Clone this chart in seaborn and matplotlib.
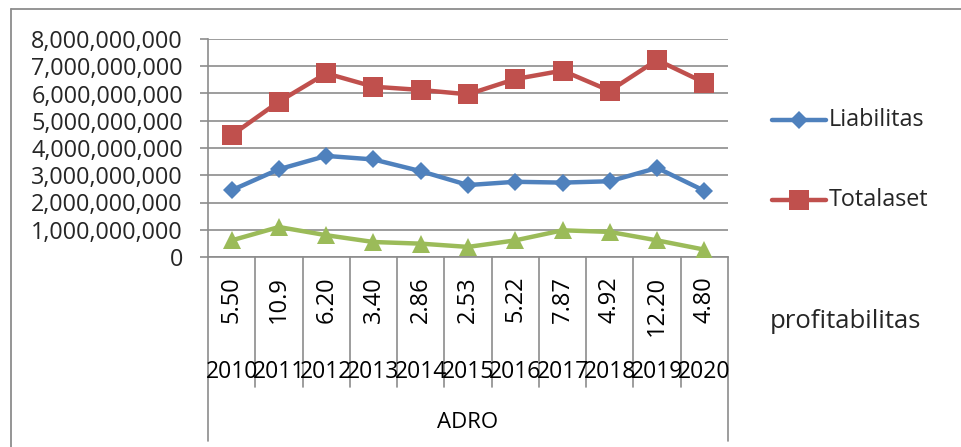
import matplotlib
matplotlib.use("Agg")
import matplotlib.pyplot as plt
import matplotlib.transforms as mtransforms
from matplotlib.lines import Line2D
import numpy as np
import pandas as pd
import seaborn as sns

# ---- data -------------------------------------------------------------
years = ["2010", "2011", "2012", "2013", "2014", "2015",
         "2016", "2017", "2018", "2019", "2020"]
profit_labels = ["5.50", "10.9", "6.20", "3.40", "2.86", "2.53",
                 "5.22", "7.87", "4.92", "12.20", "4.80"]
company = "ADRO"

liabilitas = [2.45e9, 3.22e9, 3.71e9, 3.58e9, 3.15e9, 2.64e9,
              2.76e9, 2.73e9, 2.78e9, 3.27e9, 2.43e9]
totalaset = [4.47e9, 5.70e9, 6.74e9, 6.25e9, 6.13e9, 5.97e9,
             6.53e9, 6.84e9, 6.10e9, 7.23e9, 6.40e9]
profitabilitas = [0.61e9, 1.10e9, 0.80e9, 0.55e9, 0.49e9, 0.37e9,
                  0.61e9, 0.98e9, 0.92e9, 0.61e9, 0.27e9]

series_names = ["Liabilitas", "Totalaset", "profitabilitas"]
series_values = [liabilitas, totalaset, profitabilitas]
yticks = [0, 1e9, 2e9, 3e9, 4e9, 5e9, 6e9, 7e9, 8e9]

# ---- styling ----------------------------------------------------------
colors = {"Liabilitas": "#4F81BD", "Totalaset": "#C0504D", "profitabilitas": "#9BBB59"}
markers = {"Liabilitas": "D", "Totalaset": "s", "profitabilitas": "^"}
msizes = {"Liabilitas": 9.2, "Totalaset": 14, "profitabilitas": 12.5}
grid_c = "#8C8C8C"

sns.set_style("white")
plt.rcParams["font.family"] = ["Open Sans", "DejaVu Sans"]

W, H = 961, 447
fig = plt.figure(figsize=(W / 100, H / 100), dpi=100)

x0, x1, ytop, ybot = 208, 728, 39, 257
ax = fig.add_axes([x0 / W, 1 - ybot / H, (x1 - x0) / W, (ybot - ytop) / H])

df = pd.DataFrame({
    "pos": np.tile(np.arange(len(years)), len(series_names)),
    "value": np.concatenate(series_values),
    "series": np.repeat(series_names, len(years)),
})

for name in series_names:
    sub = df[df["series"] == name]
    sns.lineplot(data=sub, x="pos", y="value", ax=ax, color=colors[name],
                 marker=markers[name], markersize=msizes[name],
                 markeredgewidth=0, linewidth=3.2, legend=False, zorder=3)

ax.set_xlim(-0.5, len(years) - 0.5)
ax.set_ylim(0, 8e9)
ax.set_yticks(yticks)
ax.set_yticklabels([f"{int(v):,}" for v in yticks], fontsize=16.8)
ax.set_xticks([])
ax.set_xlabel("")
ax.set_ylabel("")
ax.yaxis.grid(True, color=grid_c, linewidth=1.2)
ax.tick_params(axis="y", direction="out", length=6, width=1.2, color=grid_c, pad=12, left=True)
for side in ["top", "right"]:
    ax.spines[side].set_visible(False)
ax.spines["left"].set_color(grid_c)
ax.spines["left"].set_linewidth(1.2)
ax.spines["bottom"].set_color(grid_c)
ax.spines["bottom"].set_linewidth(1.2)

# ---- multi-level category axis -----------------------------------------
blend = mtransforms.blended_transform_factory(ax.transData, fig.transFigure)

def fy(py):
    return 1 - py / H

for i in range(len(years) - 1):
    ax.add_line(Line2D([i + 0.5, i + 0.5], [fy(ybot), fy(387)], transform=blend,
                       color=grid_c, linewidth=1.2, clip_on=False))
for xe in (-0.5, len(years) - 0.5):
    ax.add_line(Line2D([xe, xe], [fy(ybot), fy(441)], transform=blend,
                       color=grid_c, linewidth=1.2, clip_on=False))

for i, (lab, yr) in enumerate(zip(profit_labels, years)):
    ax.text(i, fy(276), lab, transform=blend, rotation=90, ha="center", va="top",
            fontsize=17, color="black")
    ax.text(i, fy(372), yr, transform=blend, ha="center", va="center",
            fontsize=16.5, color="black")
ax.text((len(years) - 1) / 2, fy(423), company, transform=blend, ha="center",
        va="center", fontsize=16, color="black")

# ---- chart frame ------------------------------------------------------
fig.add_artist(Line2D([10.5 / W, 10.5 / W], [fy(9), 0], transform=fig.transFigure,
                      color=grid_c, linewidth=1.3))
fig.add_artist(Line2D([10.5 / W, 1], [fy(9), fy(9)], transform=fig.transFigure,
                      color=grid_c, linewidth=1.3))

# ---- legend -----------------------------------------------------------
for name, ly in (("Liabilitas", 120), ("Totalaset", 200)):
    fig.add_artist(Line2D([772 / W, 826 / W], [fy(ly), fy(ly)], transform=fig.transFigure,
                          color=colors[name], linewidth=3.2, solid_capstyle="round"))
    fig.add_artist(Line2D([799 / W], [fy(ly)], transform=fig.transFigure,
                          color=colors[name], marker=markers[name],
                          markersize=msizes[name], markeredgewidth=0, linestyle="none"))
    fig.text(829 / W, fy(ly), name, ha="left", va="center", fontsize=16.8)
fig.text(770 / W, fy(322), "profitabilitas", ha="left", va="center", fontsize=18.5)

fig.savefig("out.png", dpi=100)
